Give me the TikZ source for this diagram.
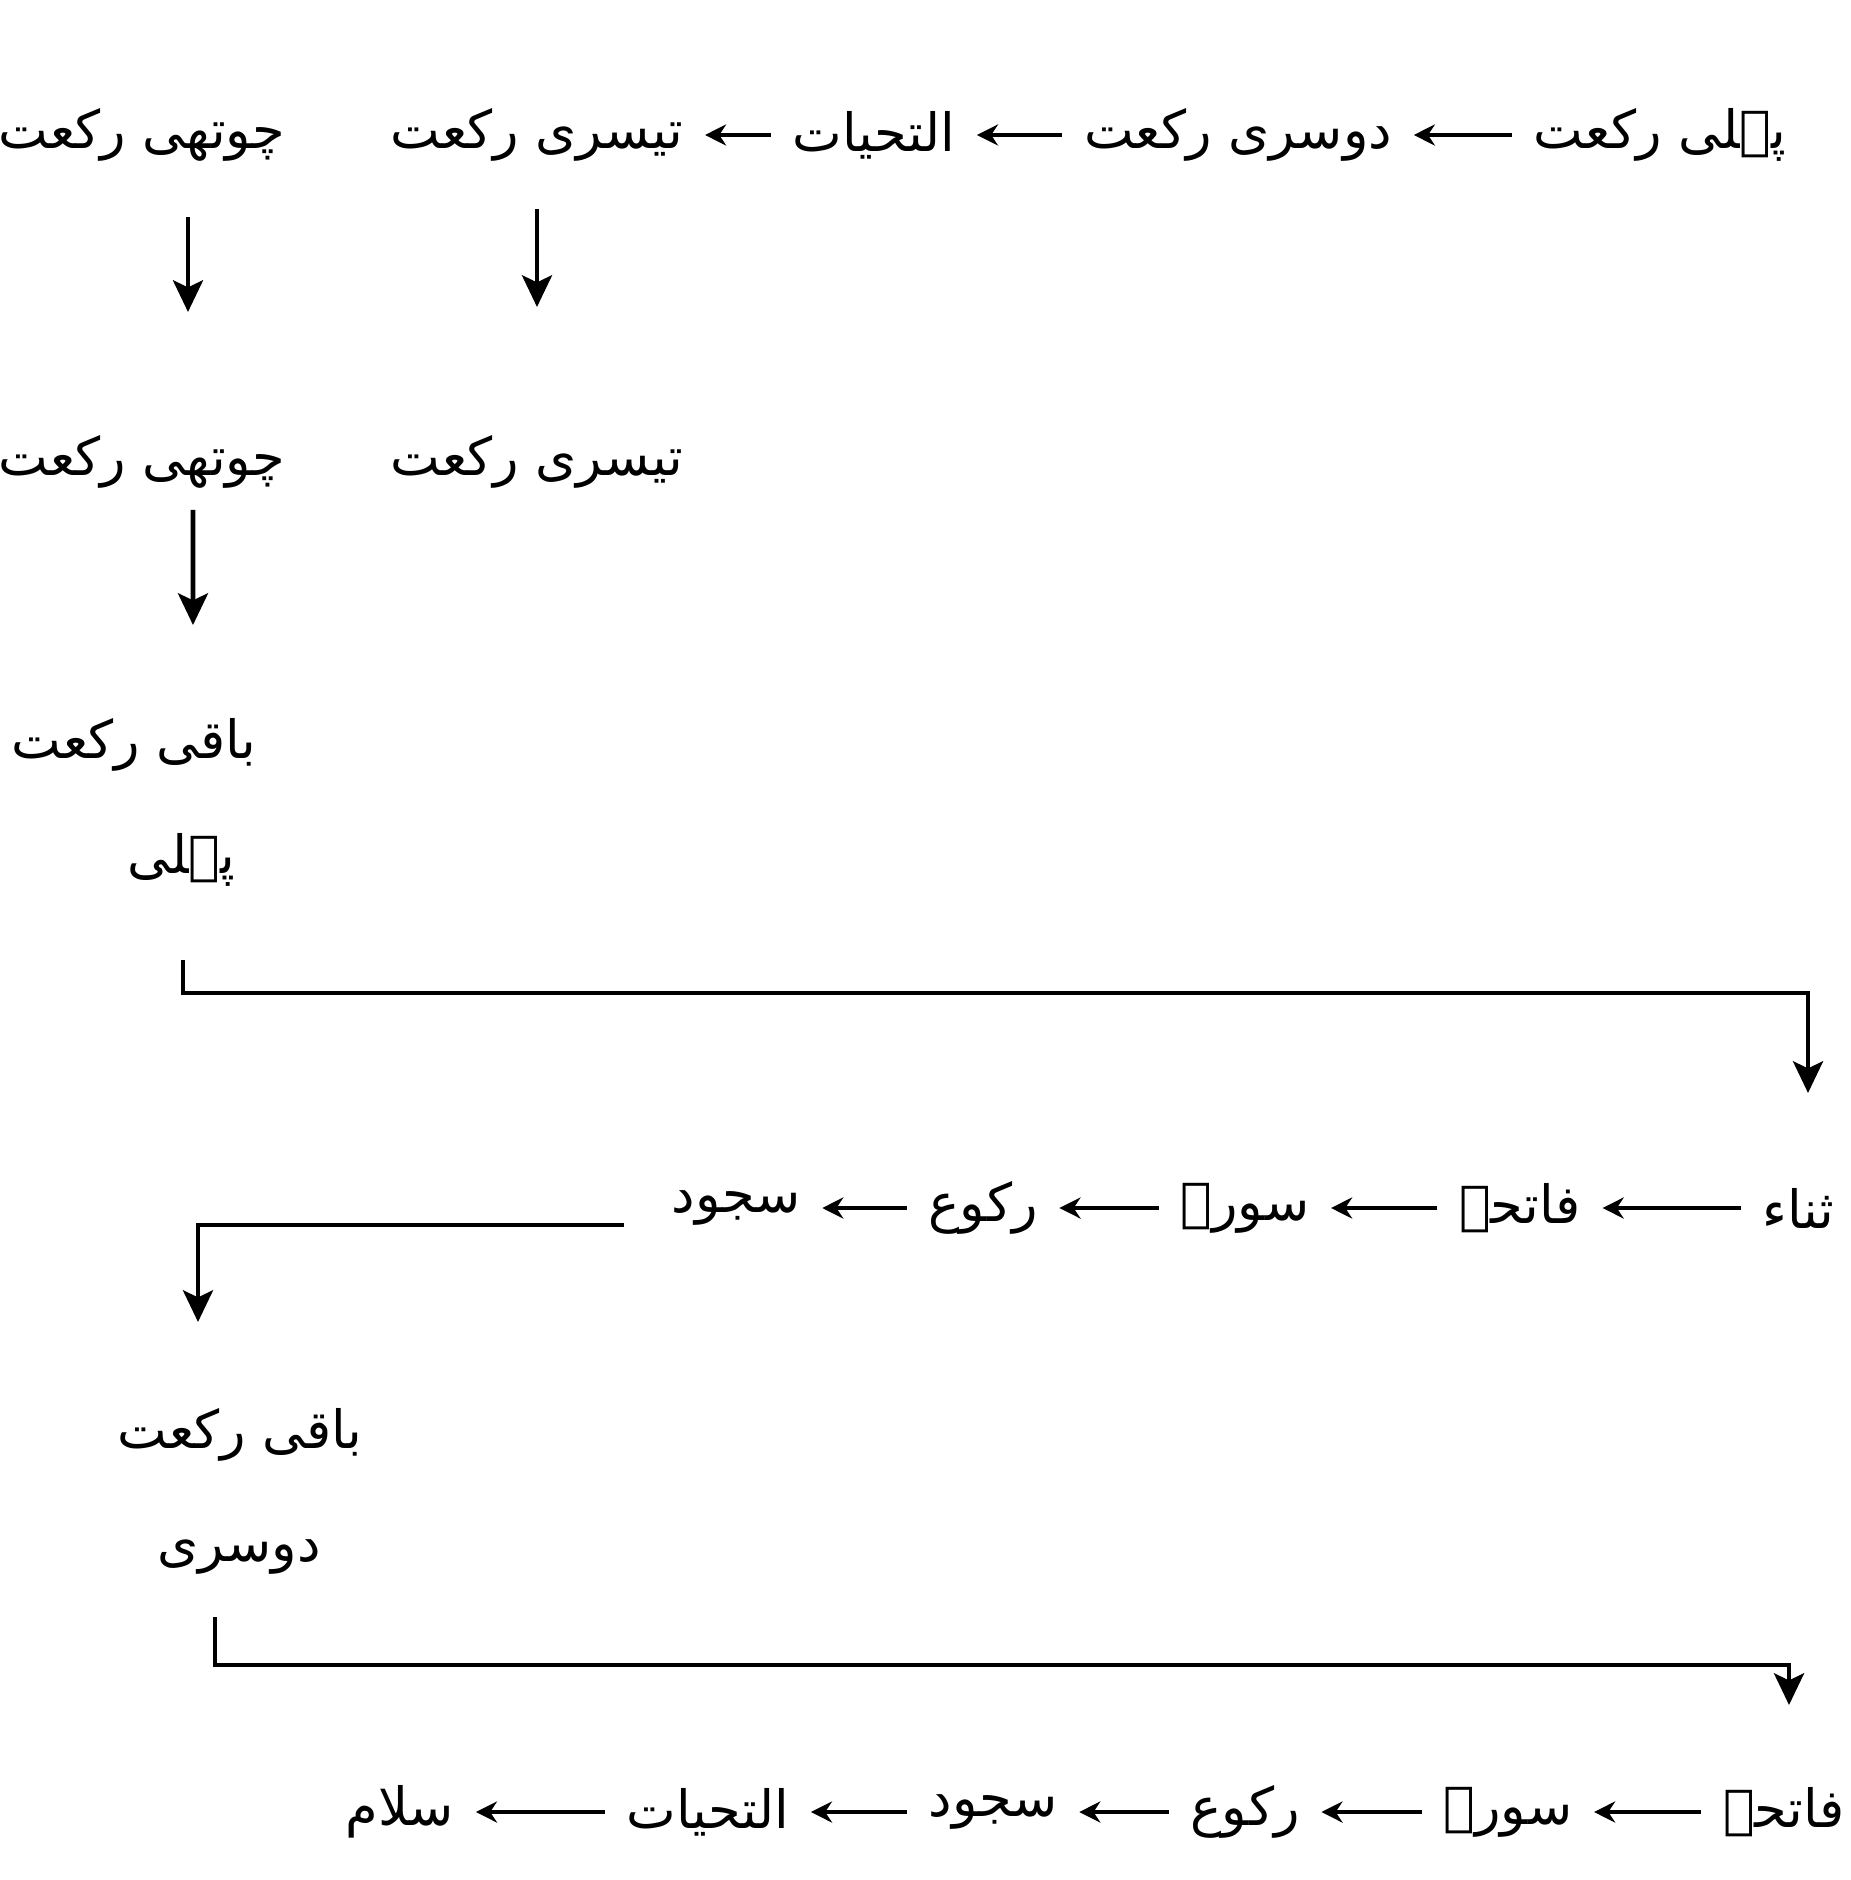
\documentclass[tikz,border=0pt]{standalone}
\usepackage{fontspec}
\usepackage{tikz}
\usetikzlibrary{arrows.meta,positioning,calc}
\newfontfamily\urdufont[Script=Arabic]{DejaVu Sans}
\TeXXeTstate=1
\tikzset{
  lbl/.style={font=\urdufont\fontsize{15}{18}\selectfont,inner sep=1pt},
  arr/.style={-{Stealth[length=9pt,width=8.5pt,inset=2pt]},line width=1.4pt},
  sarr/.style={-{Stealth[length=6pt,width=6pt]},line width=1pt,shorten <=5pt,shorten >=5pt},
}
\begin{document}
\begin{tikzpicture}
  \path[use as bounding box,fill=white] (0,0) rectangle (18.5,-18.8);
  \node[lbl] (pahli1) at (16.60,-1.35) {\beginR پہلی رکعت\endR};
  \node[lbl] (dusri1) at (12.38,-1.35) {\beginR دوسری رکعت\endR};
  \node[lbl] (tahiyat1) at (8.74,-1.35) {\beginR التحیات\endR};
  \node[lbl] (tisri1) at (5.37,-1.35) {\beginR تیسری رکعت\endR};
  \node[lbl] (chauthi1) at (1.42,-1.35) {\beginR چوتھی رکعت\endR};
  \node[lbl] (chauthi2) at (1.42,-4.62) {\beginR چوتھی رکعت\endR};
  \node[lbl] (tisri2) at (5.37,-4.62) {\beginR تیسری رکعت\endR};
  \node[lbl] (baqi1) at (1.34,-7.45) {\beginR باقی رکعت\endR};
  \node[lbl] (pahli2) at (1.81,-8.60) {\beginR پہلی\endR};
  \node[lbl] (thana) at (17.98,-12.08) {\beginR ثناء\endR};
  \node[lbl] (fatiha1) at (15.20,-12.08) {\beginR فاتحہ\endR};
  \node[lbl] (sura1) at (12.45,-12.08) {\beginR سورۃ\endR};
  \node[lbl] (ruku1) at (9.83,-12.08) {\beginR رکوع\endR};
  \node[lbl] (sujud1) at (7.36,-12.08) {\beginR سجود\endR};
  \node[lbl] (baqi2) at (2.40,-14.35) {\beginR باقی رکعت\endR};
  \node[lbl] (dusri2) at (2.39,-15.57) {\beginR دوسری\endR};
  \node[lbl] (fatiha2) at (17.84,-18.12) {\beginR فاتحہ\endR};
  \node[lbl] (sura2) at (15.08,-18.12) {\beginR سورۃ\endR};
  \node[lbl] (ruku2) at (12.45,-18.12) {\beginR رکوع\endR};
  \node[lbl] (sujud2) at (9.93,-18.12) {\beginR سجود\endR};
  \node[lbl] (tahiyat2) at (7.08,-18.12) {\beginR التحیات\endR};
  \node[lbl] (salam) at (4.00,-18.12) {\beginR سلام\endR};
  \draw[sarr] (pahli1) -- (dusri1);
  \draw[sarr] (dusri1) -- (tahiyat1);
  \draw[sarr] (tahiyat1) -- (tisri1);
  \draw[sarr] (thana) -- (fatiha1);
  \draw[sarr] (fatiha1) -- (sura1);
  \draw[sarr] (sura1) -- (ruku1);
  \draw[sarr] (ruku1) -- (sujud1);
  \draw[sarr] (fatiha2) -- (sura2);
  \draw[sarr] (sura2) -- (ruku2);
  \draw[sarr] (ruku2) -- (sujud2);
  \draw[sarr] (sujud2) -- (tahiyat2);
  \draw[sarr] (tahiyat2) -- (salam);
  \draw[arr,shorten <=0.82cm,shorten >=1.50cm] ([xshift=4.6mm]chauthi1.center) -- ([xshift=4.6mm]chauthi2.center);
  \draw[arr,shorten <=0.74cm,shorten >=1.55cm] (tisri1.center) -- (tisri2.center);
  \draw[arr,shorten <=0.48cm,shorten >=1.20cm] ([xshift=5.1mm]chauthi2.center) -- ([xshift=5.9mm]baqi1.center);
  \draw[arr] ([xshift=0.2mm,yshift=-1.0cm]pahli2.center) -- ++(0,-0.33) -| ([xshift=1mm,yshift=1.15cm]thana.center);
  \draw[arr] ([xshift=-1.12cm,yshift=-0.17cm]sujud1.center) -| ([xshift=-4.2mm,yshift=1.13cm]baqi2.center);
  \draw[arr] ([xshift=-2.4mm,yshift=-0.6cm]dusri2.center) -- ++(0,-0.48) -| ([xshift=0.5mm,yshift=1.07cm]fatiha2.center);
\end{tikzpicture}
\end{document}
